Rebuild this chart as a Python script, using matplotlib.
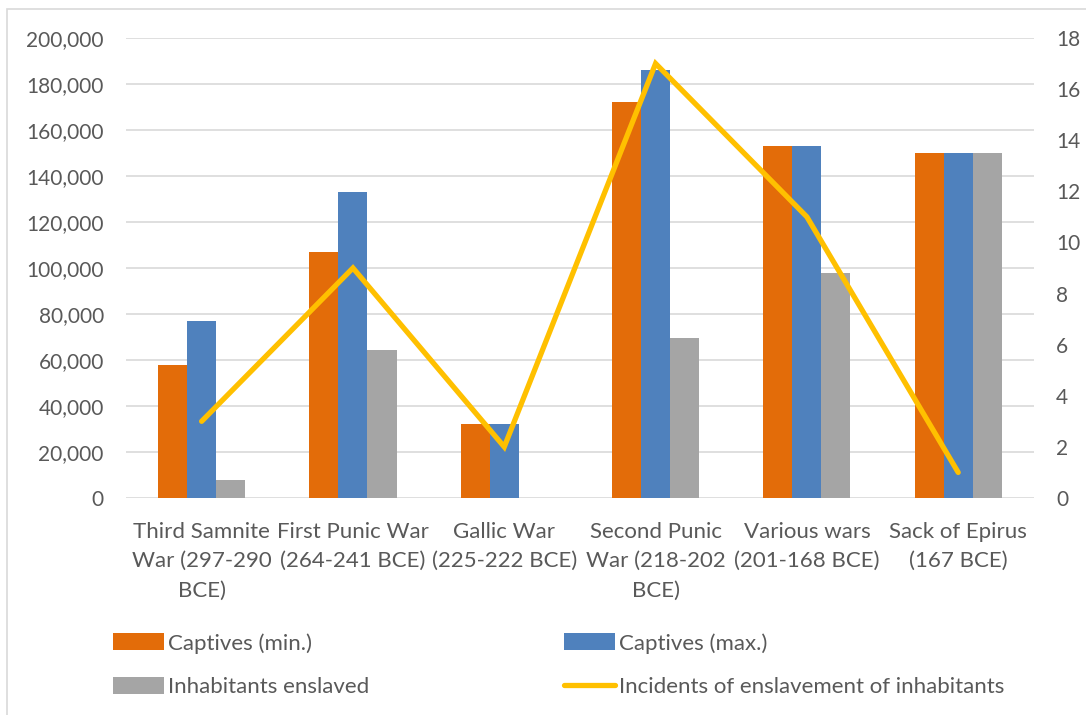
import matplotlib.pyplot as plt
import numpy as np
from matplotlib.patches import Rectangle
from matplotlib.ticker import StrMethodFormatter

plt.rcParams['font.family'] = ['Lato', 'DejaVu Sans']

wars = ["Third Samnite\nWar (297-290\nBCE)", "First Punic War\n(264-241 BCE)",
        "Gallic War\n(225-222 BCE)", "Second Punic\nWar (218-202\nBCE)",
        "Various wars\n(201-168 BCE)", "Sack of Epirus\n(167 BCE)"]
captives_min = [58000, 107000, 32000, 172000, 153000, 150000]
captives_max = [77000, 133000, 32000, 186000, 153000, 150000]
inhabitants = [8000, 64500, 0, 69500, 98000, 150000]
incidents = [3, 9, 2, 17, 11, 1]

txt = '#595959'
grid = '#D9D9D9'
fs = 15

fig = plt.figure(figsize=(10.86, 7.15), dpi=100)
ax = fig.add_axes([0.116, 0.3035, 0.836, 0.6434])

x = np.arange(len(wars))
w = 0.192
b1 = ax.bar(x - w, captives_min, w, color='#E36C09', label='Captives (min.)', zorder=2)
b2 = ax.bar(x, captives_max, w, color='#4F81BD', label='Captives (max.)', zorder=2)
b3 = ax.bar(x + w, inhabitants, w, color='#A5A5A5', label='Inhabitants enslaved', zorder=2)

ax.set_xlim(-0.5, len(wars) - 0.5)
ax.set_ylim(0, 200000)
ax.set_yticks(np.arange(0, 200001, 20000))
ax.yaxis.set_major_formatter(StrMethodFormatter('{x:,.0f}'))
ax.grid(axis='y', color=grid, lw=1.2, zorder=0)
ax.set_xticks(x)
ax.set_xticklabels(wars, linespacing=1.6)
ax.tick_params(length=0, labelsize=fs, labelcolor=txt)
ax.tick_params(axis='x', labelsize=16, pad=17)
ax.tick_params(axis='y', pad=16)
for s in ax.spines.values():
    s.set_visible(False)

ax2 = ax.twinx()
ln, = ax2.plot(x, incidents, color='#FFC000', lw=3.8, solid_capstyle='round',
               solid_joinstyle='miter', label='Incidents of enslavement of inhabitants', zorder=3)
ax2.set_ylim(0, 18)
ax2.set_yticks(np.arange(0, 19, 2))
ax2.tick_params(length=0, labelsize=fs, labelcolor=txt, pad=16)
for s in ax2.spines.values():
    s.set_visible(False)

# ncol=2 fills by column, so order the handles to read row by row
fig.legend([b1, b3, b2, ln],
           ['Captives (min.)', 'Inhabitants enslaved', 'Captives (max.)',
            'Incidents of enslavement of inhabitants'],
           ncol=2, loc='upper left', bbox_to_anchor=(0.0957, 0.127, 0.8375, 0.0),
           mode='expand', frameon=False, fontsize=16, labelcolor=txt,
           handlelength=2.3, handleheight=0.8, handletextpad=0.2,
           labelspacing=1.05, borderaxespad=0)

fig.patches.append(Rectangle((7 / 1086, -0.1), 2, 0.1 + 1 - 9 / 715, transform=fig.transFigure,
                             fill=False, edgecolor=grid, lw=1.2))

fig.savefig('out.png', dpi=100)
